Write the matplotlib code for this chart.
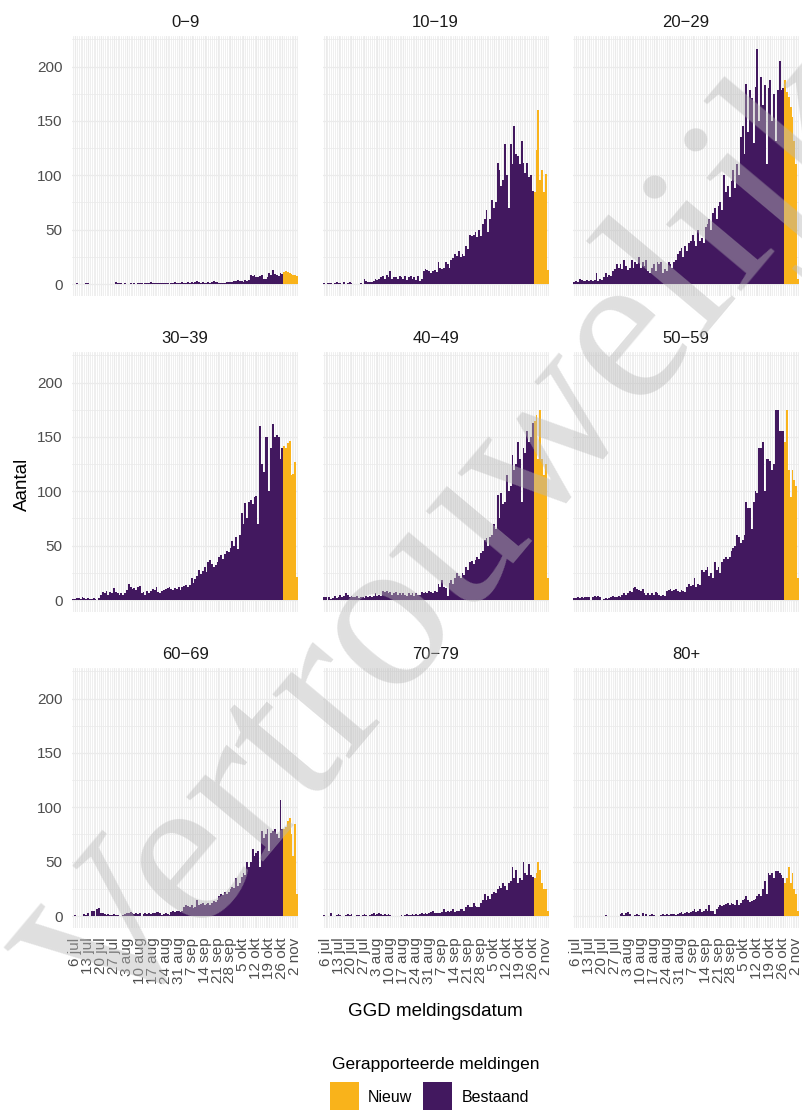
import matplotlib
matplotlib.use("Agg")
import matplotlib.pyplot as plt
import matplotlib.dates as mdates
import matplotlib.ticker as mticker
from matplotlib.patches import Rectangle
import pandas as pd

# ---------------- data ----------------
START_DATE = "2020-07-05"
END_DATE = "2020-11-03"
NIEUW_START = "2020-10-27"

GROUPS = ["0-9", "10-19", "20-29", "30-39", "40-49", "50-59", "60-69", "70-79", "80+"]

TICK_DATES = ["2020-07-06", "2020-07-13", "2020-07-20", "2020-07-27", "2020-08-03",
              "2020-08-10", "2020-08-17", "2020-08-24", "2020-08-31", "2020-09-07",
              "2020-09-14", "2020-09-21", "2020-09-28", "2020-10-05", "2020-10-12",
              "2020-10-19", "2020-10-26", "2020-11-02"]
TICK_LABELS = ["6 jul", "13 jul", "20 jul", "27 jul", "3 aug", "10 aug", "17 aug",
               "24 aug", "31 aug", "7 sep", "14 sep", "21 sep", "28 sep", "5 okt",
               "12 okt", "19 okt", "26 okt", "2 nov"]
Y_TICKS = [0, 50, 100, 150, 200]

# Bestaand (existing reports), 5 jul .. 26 okt
BESTAAND_0_9 = [0, 0, 1, 0, 0, 0, 0, 1, 1, 0, 0, 0, 0, 0, 0, 0, 0, 0, 0, 0, 0,
                0, 0, 2, 1, 1, 1, 0, 1, 0, 0, 1, 0, 1, 0, 1, 1, 1, 0, 1, 1, 1,
                2, 1, 1, 1, 1, 1, 1, 1, 1, 1, 0, 1, 1, 2, 1, 1, 1, 2, 1, 1, 2,
                1, 2, 1, 2, 3, 2, 1, 2, 1, 1, 2, 1, 2, 3, 2, 2, 1, 1, 1, 1, 2,
                2, 2, 2, 3, 3, 4, 3, 3, 2, 4, 3, 4, 8, 7, 8, 6, 6, 7, 8, 5, 5,
                6, 10, 8, 13, 9, 8, 7, 10, 9]
BESTAAND_10_19 = [1, 0, 1, 1, 1, 0, 1, 2, 1, 1, 0, 2, 0, 1, 2, 1, 0, 0, 0, 0, 1,
                  0, 5, 3, 2, 2, 2, 3, 5, 4, 5, 6, 7, 5, 8, 6, 12, 5, 6, 6, 5, 7,
                  6, 5, 7, 4, 6, 7, 5, 6, 4, 7, 3, 5, 12, 14, 13, 12, 10, 12, 13, 11, 20,
                  15, 14, 15, 20, 18, 15, 22, 24, 28, 26, 30, 25, 28, 26,
                  35, 32, 45, 44, 45, 48, 43, 50, 44, 55, 60, 68, 48, 60,
                  77, 70, 75, 111, 105, 90, 96, 129, 100, 70, 129, 110, 145, 120,
                  118, 110, 132, 111, 102, 111, 98, 100, 86]
BESTAAND_20_29 = [2, 3, 2, 5, 4, 3, 3, 4, 3, 4, 3, 4, 10, 3, 5, 4, 6, 10, 6, 8, 7,
                  12, 14, 18, 15, 18, 14, 22, 17, 13, 15, 22, 15, 20, 18, 25, 15, 20,
                  17, 22, 12, 10, 15, 18, 12, 20, 18, 20, 10, 14, 12, 20, 18, 15, 20,
                  22, 28, 30, 33, 25, 35, 30, 38, 40, 45, 40, 35, 50, 40, 42, 38,
                  52, 55, 60, 50, 65, 70, 60, 72, 75, 68, 100, 85, 90, 80,
                  95, 105, 88, 110, 100, 135, 145, 120, 184, 140, 178, 171, 130, 181,
                  216, 150, 190, 165, 183, 110, 180, 188, 150, 175, 132, 178, 205, 178, 180]
BESTAAND_30_39 = [1, 1, 2, 2, 1, 3, 2, 1, 2, 1, 1, 2, 1, 0, 2, 5, 7, 6, 8, 5, 7,
                  6, 11, 7, 6, 5, 6, 5, 6, 9, 15, 12, 10, 11, 9, 12, 13, 6, 7, 5, 8, 6,
                  8, 10, 9, 12, 7, 6, 8, 9, 10, 11, 12, 10, 9, 11, 10, 12, 9, 12, 13, 14, 12,
                  14, 20, 16, 19, 22, 28, 24, 27, 30, 26, 35, 37, 33, 30,
                  32, 35, 40, 41, 38, 42, 45, 44, 48, 54, 50, 58, 47, 60,
                  80, 70, 89, 75, 90, 92, 88, 95, 96, 70, 160, 125, 118, 150,
                  150, 100, 140, 162, 150, 152, 150, 130, 140]
BESTAAND_40_49 = [3, 3, 0, 3, 1, 2, 4, 2, 3, 5, 3, 4, 6, 5, 3, 4, 3, 3, 4, 2, 3,
                  3, 2, 4, 3, 4, 3, 4, 6, 4, 5, 4, 8, 7, 8, 6, 7, 5, 6, 7, 5, 6,
                  5, 6, 5, 4, 6, 5, 6, 4, 6, 5, 5, 7, 6, 7, 6, 8, 7, 6, 8, 7, 15,
                  12, 18, 12, 11, 4, 16, 18, 15, 20, 25, 22, 20, 25, 23,
                  30, 28, 35, 36, 33, 37, 40, 38, 43, 45, 55, 57, 50, 58,
                  60, 70, 65, 97, 75, 98, 88, 90, 115, 100, 105, 133, 120, 125,
                  145, 130, 90, 140, 135, 155, 145, 150, 163]
BESTAAND_50_59 = [2, 2, 3, 2, 3, 2, 3, 3, 3, 0, 3, 4, 3, 4, 3, 0, 1, 2, 1, 2, 3,
                  4, 3, 3, 4, 3, 5, 6, 5, 6, 8, 7, 11, 12, 10, 9, 8, 10, 6, 5, 6, 5,
                  6, 5, 7, 6, 5, 4, 5, 4, 8, 9, 10, 8, 9, 10, 8, 7, 9, 8, 7, 12, 15,
                  13, 14, 20, 12, 15, 14, 28, 26, 28, 30, 22, 25, 20, 35,
                  28, 30, 25, 35, 38, 40, 38, 40, 45, 48, 50, 60, 58, 52,
                  55, 60, 90, 85, 85, 65, 90, 100, 98, 140, 140, 145, 100, 130,
                  130, 128, 120, 125, 175, 175, 155, 155, 155]
BESTAAND_60_69 = [0, 1, 0, 0, 0, 0, 2, 1, 3, 0, 5, 5, 0, 6, 7, 3, 3, 2, 1, 2, 1,
                  1, 2, 1, 1, 0, 0, 1, 2, 3, 3, 4, 3, 2, 3, 2, 3, 0, 2, 3, 2, 3,
                  2, 3, 3, 4, 4, 3, 1, 2, 3, 2, 1, 4, 5, 4, 5, 5, 4, 5, 8, 10, 9,
                  8, 10, 7, 8, 15, 10, 11, 12, 10, 11, 12, 10, 12, 14,
                  13, 15, 18, 20, 19, 22, 20, 22, 25, 27, 26, 35, 28, 30,
                  36, 40, 38, 50, 45, 50, 62, 55, 58, 60, 45, 78, 72, 75,
                  80, 60, 76, 78, 80, 75, 72, 107, 80]
BESTAAND_70_79 = [1, 0, 0, 0, 3, 0, 0, 1, 2, 1, 0, 0, 1, 2, 1, 2, 0, 0, 1, 1, 0,
                  1, 2, 1, 0, 1, 2, 3, 1, 2, 3, 2, 1, 2, 1, 2, 1, 0, 0, 0, 0, 0,
                  1, 0, 1, 2, 1, 1, 2, 1, 2, 1, 2, 3, 2, 3, 2, 3, 4, 5, 3, 3, 3,
                  3, 4, 6, 4, 5, 4, 5, 6, 4, 5, 5, 6, 6, 5,
                  8, 10, 8, 8, 12, 9, 8, 8, 12, 15, 20, 15, 18, 16,
                  20, 22, 21, 25, 28, 26, 30, 28, 24, 30, 32, 45, 35, 42,
                  30, 35, 33, 50, 40, 38, 48, 38, 36]
BESTAAND_80P = [0, 0, 0, 0, 0, 0, 0, 0, 0, 0, 0, 0, 0, 0, 0, 0, 0, 1, 0, 0, 0,
                0, 0, 0, 0, 2, 3, 1, 3, 4, 2, 0, 0, 1, 2, 1, 0, 3, 0, 2, 0, 1,
                2, 1, 0, 0, 0, 1, 2, 1, 2, 1, 2, 2, 2, 1, 2, 3, 4, 2, 3, 4, 3,
                4, 5, 6, 4, 5, 6, 4, 5, 6, 5, 10, 5, 5, 2,
                6, 8, 10, 9, 10, 11, 12, 10, 12, 11, 10, 15, 10, 12,
                15, 16, 18, 15, 13, 14, 15, 16, 18, 20, 18, 25, 32, 20,
                40, 38, 40, 35, 41, 41, 40, 38, 35]

# Nieuw (new reports), 27 okt .. 3 nov
NIEUW_0_9 = [11, 12, 11, 10, 9, 8, 8, 7]
NIEUW_10_19 = [85, 123, 160, 96, 105, 85, 101, 13]
NIEUW_20_29 = [188, 177, 172, 163, 154, 132, 110, 5]
NIEUW_30_39 = [142, 140, 144, 146, 115, 116, 127, 21]
NIEUW_40_49 = [165, 170, 130, 175, 130, 115, 125, 20]
NIEUW_50_59 = [145, 175, 120, 95, 120, 110, 105, 20]
NIEUW_60_69 = [80, 82, 87, 90, 75, 55, 85, 20]
NIEUW_70_79 = [35, 40, 50, 42, 30, 25, 25, 5]
NIEUW_80P = [30, 35, 45, 30, 40, 25, 20, 5]

BESTAAND = [BESTAAND_0_9, BESTAAND_10_19, BESTAAND_20_29, BESTAAND_30_39, BESTAAND_40_49,
            BESTAAND_50_59, BESTAAND_60_69, BESTAAND_70_79, BESTAAND_80P]
NIEUW = [NIEUW_0_9, NIEUW_10_19, NIEUW_20_29, NIEUW_30_39, NIEUW_40_49,
         NIEUW_50_59, NIEUW_60_69, NIEUW_70_79, NIEUW_80P]

# ---------------- style ----------------
PURPLE = "#42185f"
ORANGE = "#f9b31b"
GRID = "#ebebeb"
TICKC = "#4d4d4d"
FONT = ["Liberation Sans", "DejaVu Sans"]
plt.rcParams["font.family"] = FONT

W, H = 802, 1110
fig = plt.figure(figsize=(W / 100, H / 100), dpi=100)

lefts = [72.3, 322.8, 573.3]
tops = [36.3, 352.3, 668.3]
pw, ph = 225.7, 259.5

dates = pd.date_range(START_DATE, END_DATE, freq="D")
x_all = mdates.date2num(dates)
nieuw_dates = pd.date_range(NIEUW_START, END_DATE, freq="D")
x_new = mdates.date2num(nieuw_dates)
x_old = x_all[: len(BESTAAND_0_9)]
tick_x = mdates.date2num(pd.to_datetime(TICK_DATES))

for i, name in enumerate(GROUPS):
    r, c = divmod(i, 3)
    ax = fig.add_axes([lefts[c] / W, 1 - (tops[r] + ph) / H, pw / W, ph / H])
    ax.set_axisbelow(True)
    for s in ax.spines.values():
        s.set_visible(False)
    ax.bar(x_old, BESTAAND[i], width=1.0, color=PURPLE, linewidth=0, align="center")
    ax.bar(x_new, NIEUW[i], width=1.0, color=ORANGE, linewidth=0, align="center")
    ax.set_xlim(x_all[0] - 0.5, x_all[-1] + 0.5)
    ax.set_ylim(-10.85, 227.85)
    ax.set_xticks(tick_x)
    ax.xaxis.set_minor_locator(mdates.DayLocator())
    ax.set_yticks(Y_TICKS)
    ax.yaxis.set_minor_locator(mticker.MultipleLocator(25))
    ax.grid(which="major", color=GRID, linewidth=0.9)
    ax.grid(which="minor", color=GRID, linewidth=0.55)
    ax.tick_params(which="both", length=0)
    ax.tick_params(axis="both", labelsize=11, labelcolor=TICKC, pad=7)
    if r == 2:
        ax.set_xticklabels(TICK_LABELS, rotation=90, ha="center", va="top")
    else:
        ax.tick_params(labelbottom=False)
    if c != 0:
        ax.tick_params(labelleft=False)
    ax.text(0.5, 1 + 14 / ph, name.replace("-", "\u2212"), transform=ax.transAxes,
            ha="center", va="center", fontsize=12, color="#1a1a1a")

fig.text(22 / W, 1 - 484 / H, "Aantal", rotation=90, ha="center", va="center",
         fontsize=13.5, color="black")
fig.text(435.5 / W, 1 - 1012 / H, "GGD meldingsdatum", ha="center", va="center",
         fontsize=13.5, color="black")

# legend
fig.text(435.5 / W, 1 - 1065 / H, "Gerapporteerde meldingen", ha="center", va="center",
         fontsize=12.5, color="black")
fig.patches.append(Rectangle((330 / W, 1 - 1111 / H), 29 / W, 29 / H,
                             transform=fig.transFigure, color=ORANGE, linewidth=0))
fig.text(368 / W, 1 - 1097 / H, "Nieuw", ha="left", va="center", fontsize=11.5, color="black")
fig.patches.append(Rectangle((423 / W, 1 - 1111 / H), 29 / W, 29 / H,
                             transform=fig.transFigure, color=PURPLE, linewidth=0))
fig.text(462 / W, 1 - 1097 / H, "Bestaand", ha="left", va="center", fontsize=11.5, color="black")

# watermark
fig.text(459 / W, 1 - 544 / H, "Vertrouwelijk", rotation=50, rotation_mode="anchor",
         ha="center", va="center", fontsize=158, family=["Liberation Serif", "DejaVu Serif"],
         color="#b9b9b9", alpha=0.45, zorder=20)

fig.savefig("out.png", dpi=100)
